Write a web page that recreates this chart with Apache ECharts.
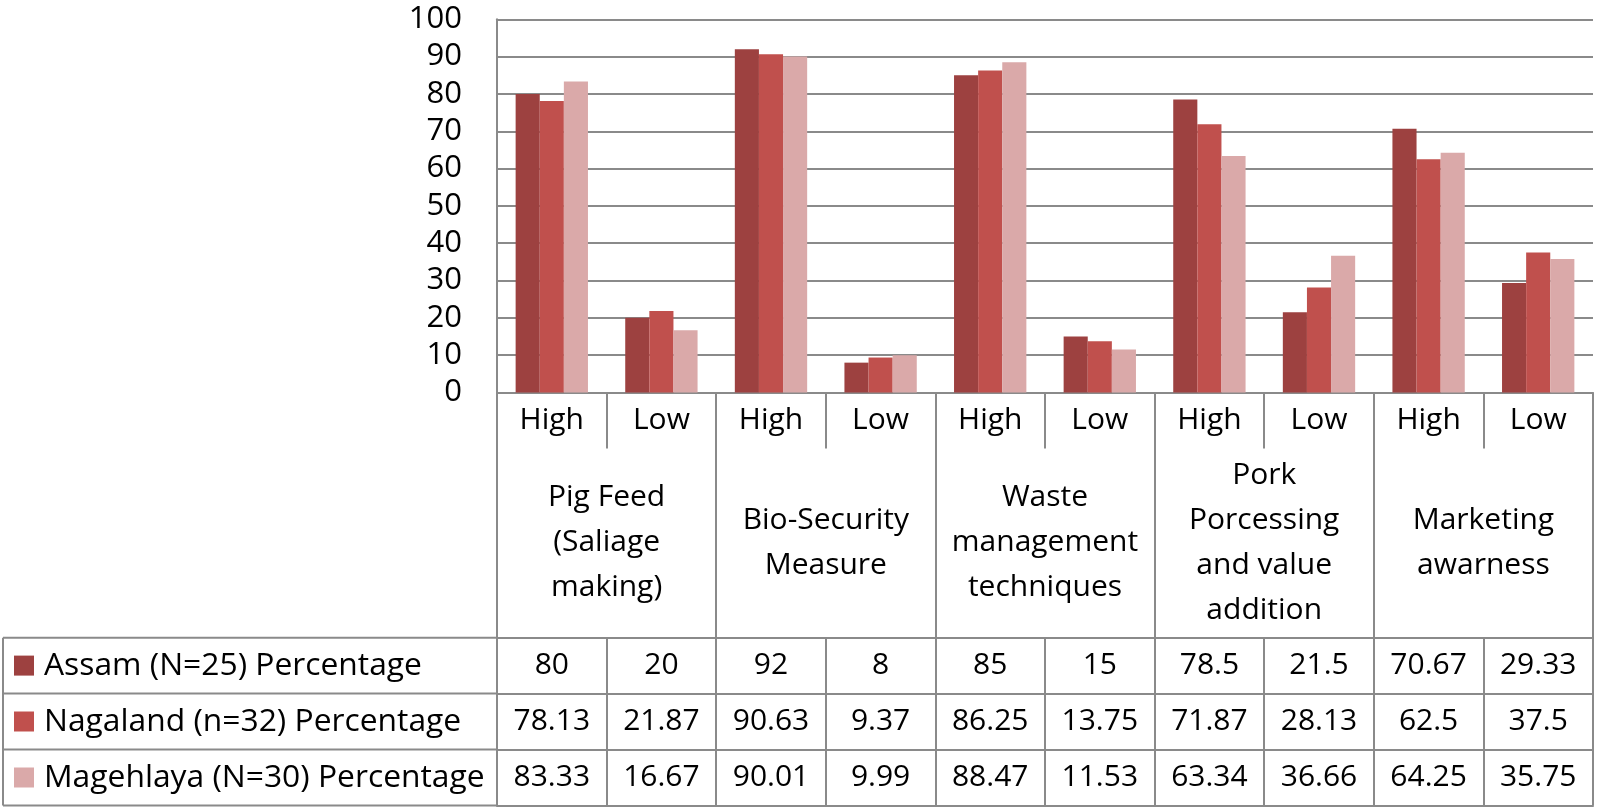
<!DOCTYPE html>
<html>
<head>
<meta charset="utf-8">
<script src="https://cdn.jsdelivr.net/npm/echarts@6/dist/echarts.min.js"></script>
<style>html,body{margin:0;padding:0;background:#fff;}#c{width:1600px;height:808px;}</style>
</head>
<body>
<div id="c"></div>
<script>
const subCategories = ['High','Low','High','Low','High','Low','High','Low','High','Low'];
const groupNames = ['Pig Feed\n(Saliage\nmaking)','Bio-Security\nMeasure','Waste\nmanagement\ntechniques','Pork\nPorcessing\nand value\naddition','Marketing\nawarness'];
const seriesNames = ['Assam (N=25) Percentage','Nagaland (n=32) Percentage','Magehlaya (N=30) Percentage'];
const assam = [80, 20, 92, 8, 85, 15, 78.5, 21.5, 70.67, 29.33];
const nagaland = [78.13, 21.87, 90.63, 9.37, 86.25, 13.75, 71.87, 28.13, 62.5, 37.5];
const meghalaya = [83.33, 16.67, 90.01, 9.99, 88.47, 11.53, 63.34, 36.66, 64.25, 35.75];
const yTicks = {min: 0, max: 100, interval: 10};

const colors = ['#9D4140', '#C0504D', '#DAA9A9'];
const FONT = 'Open Sans';
const GRAY = '#8a8a8a';
const chart = echarts.init(document.getElementById('c'));

const gridLeft = 497, gridRight = 7, gridTop = 19.3, gridBottomY = 392.5;
const rowLines = [637.7, 693.5, 749.5, 805.5];
const lineStyle = {color: GRAY, width: 2};

function valueAxis(values, offset, showTicks) {
  return {
    type: 'category', gridIndex: 0, position: 'bottom', offset: offset,
    data: values.map(v => String(v)),
    axisLine: {show: true, lineStyle: lineStyle},
    axisTick: {show: showTicks, length: rowLines[3] - rowLines[0], interval: 0, lineStyle: lineStyle},
    axisLabel: {interval: 0, margin: 28, verticalAlign: 'middle', fontSize: 30, fontFamily: FONT, color: '#000'},
    splitLine: {show: false}
  };
}

const legendGraphics = [];
rowLines.forEach(y => legendGraphics.push({type: 'line', shape: {x1: 3, y1: y, x2: gridLeft, y2: y}, style: {stroke: GRAY, lineWidth: 2}}));
legendGraphics.push({type: 'line', shape: {x1: 3, y1: rowLines[0], x2: 3, y2: rowLines[3]}, style: {stroke: GRAY, lineWidth: 2}});
seriesNames.forEach((name, i) => {
  const cy = (rowLines[i] + rowLines[i + 1]) / 2;
  legendGraphics.push({type: 'rect', shape: {x: 14, y: cy - 10, width: 20, height: 20}, style: {fill: colors[i]}});
  legendGraphics.push({type: 'text', x: 44, y: cy, style: {text: name, fill: '#000', font: '31.8px "' + FONT + '"', textVerticalAlign: 'middle', textAlign: 'left'}});
});

chart.setOption({
  animation: false,
  backgroundColor: '#fff',
  grid: {left: gridLeft, right: gridRight, top: gridTop, bottom: 808 - gridBottomY, containLabel: false, outerBoundsMode: 'none'},
  xAxis: [
    {
      type: 'category', gridIndex: 0, position: 'bottom', data: subCategories,
      axisLine: {show: true, lineStyle: lineStyle},
      axisTick: {show: true, length: 56, interval: 0, lineStyle: lineStyle},
      axisLabel: {interval: 0, margin: 28, verticalAlign: 'middle', fontSize: 30, fontFamily: FONT, color: '#000'},
      splitLine: {show: false}
    },
    {
      type: 'category', gridIndex: 0, position: 'bottom', offset: 0, data: groupNames,
      axisLine: {show: false},
      axisTick: {show: true, length: rowLines[0] - gridBottomY, interval: 0, lineStyle: lineStyle},
      axisLabel: {interval: 0, margin: 150, verticalAlign: 'middle', lineHeight: 45, fontSize: 30, fontFamily: FONT, color: '#000'},
      splitLine: {show: false}
    },
    valueAxis(assam, rowLines[0] - gridBottomY, true),
    valueAxis(nagaland, rowLines[1] - gridBottomY, false),
    valueAxis(meghalaya, rowLines[2] - gridBottomY, false),
    {
      type: 'category', gridIndex: 0, position: 'bottom', offset: rowLines[3] - gridBottomY,
      data: subCategories.map(() => ''),
      axisLine: {show: true, lineStyle: lineStyle},
      axisTick: {show: false}, axisLabel: {show: false}
    }
  ],
  yAxis: {
    type: 'value', min: yTicks.min, max: yTicks.max, interval: yTicks.interval,
    axisLine: {show: true, lineStyle: lineStyle},
    axisTick: {show: false},
    axisLabel: {margin: 35, fontSize: 31, fontFamily: FONT, color: '#000'},
    splitLine: {show: true, lineStyle: lineStyle}
  },
  series: [assam, nagaland, meghalaya].map((d, i) => ({
    name: seriesNames[i], type: 'bar', xAxisIndex: 0, yAxisIndex: 0, data: d,
    barGap: '0%', barCategoryGap: '34%',
    itemStyle: {color: colors[i]}
  })),
  graphic: legendGraphics
});
</script>
</body>
</html>
